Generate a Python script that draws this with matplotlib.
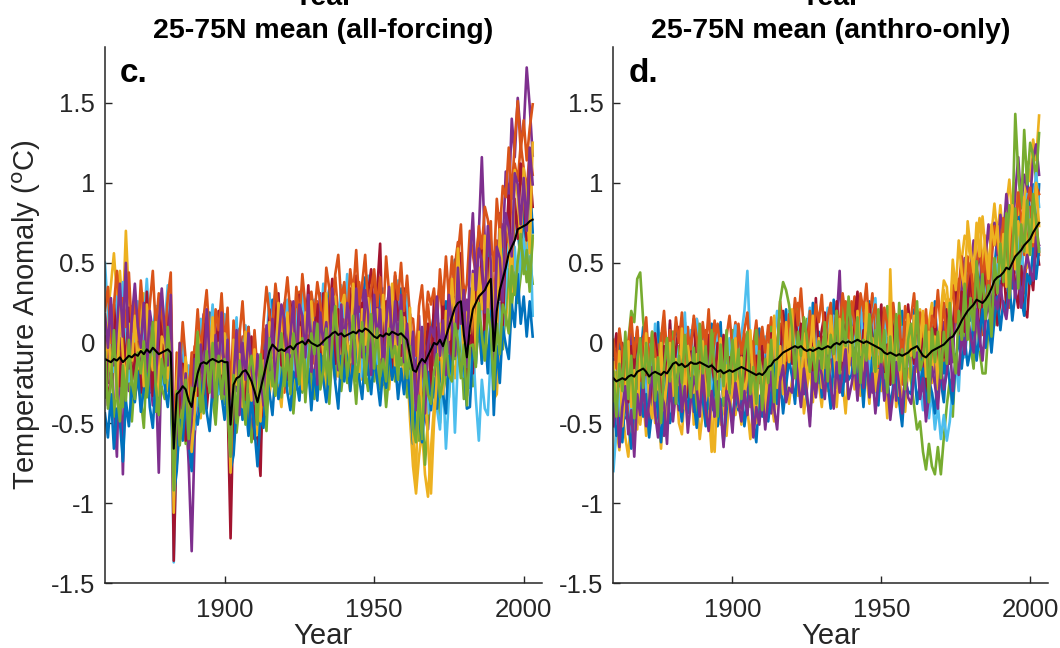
import numpy as np
import matplotlib.pyplot as plt
from matplotlib.ticker import FuncFormatter

plt.rcParams['font.family'] = ['Liberation Sans', 'DejaVu Sans']
plt.rcParams['axes.unicode_minus'] = False

years = np.arange(1860, 2004)

# ensemble means (deg C)
mean_c = [
    -0.10, -0.11, -0.12, -0.10, -0.11, -0.09, -0.12, -0.10, -0.08, -0.09,
    -0.07, -0.08, -0.05, -0.07, -0.04, -0.06, -0.03, -0.05, -0.07, -0.06,
    -0.05, -0.04, -0.06, -0.66, -0.32, -0.30, -0.27, -0.29, -0.36, -0.40,
    -0.28, -0.19, -0.13, -0.12, -0.13, -0.11, -0.10, -0.11, -0.12, -0.11,
    -0.12, -0.12, -0.51, -0.26, -0.22, -0.21, -0.18, -0.17, -0.20, -0.24,
    -0.30, -0.37, -0.29, -0.21, -0.13, -0.05, -0.01, -0.03, -0.05, -0.04,
    -0.05, -0.03, -0.02, -0.04, -0.01, 0.00, 0.01, -0.01, 0.02, 0.00,
    -0.01, -0.02, -0.01, 0.01, 0.03, 0.04, 0.06, 0.07, 0.05, 0.06,
    0.04, 0.05, 0.06, 0.07, 0.06, 0.08, 0.07, 0.09, 0.08, 0.06,
    0.04, 0.03, 0.05, 0.04, 0.06, 0.05, 0.07, 0.06, 0.05, 0.06,
    0.04, 0.02, -0.08, -0.17, -0.18, -0.13, -0.10, -0.12, -0.08, -0.04,
    0.00, -0.01, 0.02, -0.02, 0.04, 0.10, 0.16, 0.22, 0.25, 0.26,
    0.05, -0.09, 0.10, 0.21, 0.25, 0.29, 0.31, 0.33, 0.37, 0.40,
    -0.05, 0.20, 0.33, 0.40, 0.47, 0.56, 0.60, 0.64, 0.71, 0.72,
    0.73, 0.74, 0.76, 0.77,
]

mean_d = [
    -0.22, -0.24, -0.23, -0.22, -0.23, -0.21, -0.20, -0.21, -0.18, -0.17,
    -0.16, -0.18, -0.21, -0.19, -0.18, -0.19, -0.20, -0.18, -0.19, -0.16,
    -0.13, -0.12, -0.14, -0.13, -0.15, -0.14, -0.12, -0.13, -0.13, -0.12,
    -0.13, -0.14, -0.15, -0.14, -0.16, -0.18, -0.17, -0.19, -0.18, -0.17,
    -0.18, -0.17, -0.16, -0.15, -0.16, -0.17, -0.18, -0.19, -0.20, -0.19,
    -0.20, -0.18, -0.15, -0.14, -0.11, -0.10, -0.08, -0.06, -0.05, -0.04,
    -0.03, -0.02, -0.03, -0.02, -0.04, -0.05, -0.04, -0.05, -0.04, -0.03,
    -0.04, -0.03, -0.02, -0.03, -0.01, 0.00, -0.01, 0.01, 0.00, 0.01,
    0.00, 0.01, 0.02, 0.01, 0.00, 0.01, 0.00, -0.01, -0.02, -0.03,
    -0.04, -0.06, -0.07, -0.06, -0.07, -0.08, -0.07, -0.08, -0.07, -0.06,
    -0.04, -0.03, -0.02, -0.05, -0.08, -0.09, -0.07, -0.05, -0.04, -0.03,
    -0.02, -0.01, 0.01, 0.03, 0.04, 0.07, 0.10, 0.14, 0.17, 0.20,
    0.22, 0.24, 0.27, 0.26, 0.25, 0.27, 0.30, 0.34, 0.39, 0.41,
    0.42, 0.44, 0.47, 0.46, 0.50, 0.54, 0.56, 0.58, 0.61, 0.63,
    0.65, 0.69, 0.72, 0.75,
]

# individual runs, departures from the ensemble mean in hundredths of a degree
run_c01 = [
    18, -6, 25, 10, -14, 30, 8, -20, 5, 22,
    -10, 15, 34, -4, 12, -25, 6, 28, -8, 14,
    20, -15, 8, -12, -30, 10, -6, 18, -22, 5,
    12, -18, 26, 4, -10, 30, 14, -12, 20, -5,
    8, -22, -10, 16, -8, 24, -14, 6, 30, 2,
    -16, 12, -8, 22, -18, 4, 28, -6, 10, -24,
    14, -10, 20, 6, -28, 12, -4, 26, -12, 8,
    22, -8, 4, -20, 16, 30, -10, 6, -18, 12,
    -6, 24, 10, -14, 18, -22, 8, 32, -4, -16,
    10, -12, 26, -6, 14, -24, 20, 4, -10, 28,
    -8, 16, -20, -30, 6, 12, -14, 24, -2, 10,
    18, -10, -26, 8, 22, -16, 4, 30, -12, 14,
    -20, 6, 24, -8, 16, -28, 10, -14, 26, 4,
    -12, 20, -6, 28, -18, 10, -30, 16, 2, -24,
    12, -20, 30, -8,
]
run_c02 = [
    -20, 12, -4, 28, 40, 22, 35, 48, 10, -6,
    14, -18, -30, -8, 20, 6, -24, -12, 16, 30,
    8, 24, -10, -18, 6, -30, -16, 12, -8, 20,
    26, 10, -14, -28, -6, 18, 32, 8, -20, -10,
    16, 28, -6, -18, 10, -2, 22, -16, -30, 6,
    20, -4, 14, 30, 8, -22, -10, 16, 24, -14,
    -26, 6, 18, -8, 24, 32, 10, -20, -6, 14,
    -12, 28, 18, 4, -24, -10, 20, 34, 12, -8,
    22, -16, -28, 6, 14, 30, -6, -20, 10, 26,
    36, 14, -18, 8, -26, -4, 18, 28, -12, 6,
    24, -6, 12, -20, -42, -28, -10, 20, 32, 8,
    -14, 22, 36, 12, -18, -30, 6, 26, 38, 16,
    30, 12, -20, -6, 28, 40, 22, -10, 30, 36,
    20, 44, 18, 34, 24, -8, 40, 48, 30, 52,
    36, 20, 44, 28,
]
run_c03 = [
    10, 30, 48, 66, 40, 54, 30, 80, 36, 16,
    -16, 4, 22, 38, -6, -24, -10, 12, 34, 18,
    -8, -26, -14, -10, -36, -18, 8, -20, -34, -14,
    4, -22, -34, -8, 14, -6, -26, -14, 10, 24,
    -18, -6, -24, -38, -22, 6, -12, -30, -18, -2,
    14, -20, -34, -10, 6, -28, -16, 8, -22, -36,
    -8, 16, -20, -34, -14, 4, -24, -12, 10, -30,
    -18, 6, 24, -10, -32, -16, 14, -4, -26, -12,
    8, -22, -36, -14, 10, -6, -30, -18, 4, 22,
    -10, -28, -6, 16, -20, -34, -12, 6, -24, -8,
    -30, -14, -40, -60, -76, -58, -44, -70, -88, -62,
    -40, -22, -8, -34, -18, 6, -26, -44, -20, -4,
    -28, -10, -38, -16, 4, -24, -42, -20, -6, 12,
    -30, -52, -26, -10, -36, -18, 8, -22, -40, -14,
    -26, -8, -34, -12,
]
run_c04 = [
    6, -14, 20, -30, -60, 12, -70, 8, -22, 32,
    26, -8, -20, 14, 30, -12, -36, -14, -74, 4,
    10, 28, -6, -24, 12, -16, 24, -8, -40, -90,
    -30, -12, 16, 30, -4, 22, -18, 6, 28, 10,
    -14, 20, 6, -26, 14, 30, -8, 18, -20, -34,
    8, 26, -12, -24, 16, -8, 20, 34, -16, 4,
    30, 8, -18, 14, 26, -10, -28, 6, 20, -14,
    -22, 10, 32, 18, -6, 24, -14, -30, 8, 26,
    14, -10, 22, -26, -8, 16, 30, -12, -28, 4,
    -18, 24, 8, -30, 12, 28, -6, -20, 16, -4,
    20, -10, 26, 8, -16, 30, -24, -34, -46, -20,
    10, -28, -14, 20, -6, -36, 18, -4, 28, -18,
    12, 36, -8, 24, -16, 40, 85, 30, 10, -20,
    26, -4, 48, 20, 60, 30, 80, 52, 82, 58,
    60, 98, 72, 40,
]
run_c05 = [
    -24, -10, 8, -36, -18, 4, -28, 16, -6, -40,
    -14, 10, -30, -46, -8, 20, -16, -38, 6, -22,
    -30, -6, -22, 8, -44, -20, 14, -34, -12, -26,
    10, -20, -8, -32, -14, 6, -24, -40, -10, 12,
    -26, -8, -20, -4, -34, -16, 10, -28, -12, -38,
    -20, 6, -30, -14, -42, -8, -26, -12, 14, -30,
    6, -24, -8, -40, -18, -4, -32, -16, 8, -22,
    -34, -10, -26, -2, -18, -42, -12, -28, -6, -36,
    -16, -30, -8, -22, -44, -14, -2, -26, -38, -10,
    -28, -6, -34, -18, -46, -24, -10, -30, -4, -20,
    -12, -36, -14, -28, -4, -48, -30, -64, -40, -18,
    -34, -20, -52, -10, -28, -44, -16, -32, -6, -26,
    -40, -14, -30, -48, -22, -8, -36, -18, -50, -28,
    -6, -34, -18, -44, -26, -10, -38, -20, -46, -30,
    -14, -36, -22, -40,
]
run_c06 = [
    60, 30, 14, -8, 40, 22, 50, 10, -16, 26,
    8, 34, -12, 20, 44, 14, -6, 28, 10, -20,
    16, 40, 6, -71, -20, 18, 30, -4, 22, -8,
    -26, -6, 28, 12, -16, 8, 34, -2, -20, 16,
    30, 4, -10, 22, 38, -14, 10, 28, -6, 20,
    34, 18, -6, -28, 10, 36, -8, 14, -20, 24,
    8, 30, 14, -16, 22, -2, 34, 10, -24, 18,
    28, -12, 8, 36, 20, -10, 26, -14, 4, 30,
    12, 38, -4, 24, -18, 10, -28, 16, 34, -8,
    22, -16, 10, 30, -6, 18, -22, 14, 34, -12,
    6, 28, -16, 12, -30, 4, -20, -6, -36, -12,
    -24, -40, -56, -18, -70, -44, -20, -78, -36, -10,
    -26, 8, -38, -20, -60, -90, -54, -74, -82, -46,
    10, -30, -8, -36, -12, 6, -26, -4, -40, -18,
    -8, -28, 6, -60,
]
run_c07 = [
    14, -28, -10, 34, 8, -18, 24, -6, 30, -14,
    -4, 20, -26, -12, 36, 8, -30, 16, -10, 24,
    -18, 10, 30, -70, -24, -8, 14, -32, 6, -20,
    22, -14, -2, 24, -28, -10, 20, -6, 32, -20,
    12, -24, -71, -10, 20, -16, 8, -28, 14, 28,
    -30, -22, -54, 16, -12, 26, -8, 20, 36, -10,
    16, -20, 28, 4, -14, 30, -26, 8, 34, -8,
    10, 26, -16, 30, -6, 14, 34, -20, 16, -4,
    -22, 6, 28, -8, 36, -14, 18, 2, 24, 40,
    8, 30, 57, -10, 20, 6, -28, 36, 12, -14,
    30, -12, 8, 16, -20, 10, -36, -8, 20, -26,
    28, 6, -18, 32, -10, 24, -30, 12, -16, 30,
    10, -24, 14, -40, 20, -10, 28, -36, 16, -8,
    30, -12, 22, -30, 14, 36, -18, 26, -6, 40,
    18, -10, 34, 8,
]
run_c08 = [
    -34, -48, -20, -56, -30, -40, -62, -26, -44, -18,
    -30, -10, -38, -22, -4, -34, -50, -16, -28, -8,
    -22, -36, -12, -30, -48, -18, -34, -6, -26, -40,
    -14, -32, -20, -8, -30, -44, -16, -28, -6, -22,
    -36, -12, -28, -44, -18, -4, -30, -20, -38, -10,
    -24, -40, -16, -32, -8, -26, -44, -14, -30, -18,
    -6, -28, -40, -14, -22, -36, -10, -30, -18, -42,
    -16, -34, -6, -24, -40, -20, -8, -32, -46, -14,
    -28, -10, -36, -18, -4, -30, -42, -16, -24, -38,
    -12, -26, -44, -20, -34, -8, -30, -18, -40, -22,
    -36, -14, -28, -46, -20, -32, -52, -24, -10, -38,
    -22, -40, -14, -30, -48, -18, -36, -8, -28, -44,
    -16, -32, -50, -24, -38, -12, -44, -26, -56, -20,
    -40, -22, -58, -30, -48, -66, -36, -54, -28, -60,
    -44, -70, -50, -73,
]
run_c09 = [
    30, 46, 12, 34, 56, 28, 40, 20, 52, 16,
    36, 10, 44, 22, -2, 30, 48, 14, 38, 24,
    8, 32, 50, -4, 26, 12, 40, 18, 2, 34,
    22, 40, 6, 28, 46, 14, -6, 32, 20, 42,
    10, 34, 16, 40, 2, 26, 44, 12, 30, -4,
    38, 18, 6, 34, 48, 22, 10, 40, 26, 8,
    28, 44, 20, 6, 36, 14, 42, 24, -2, 32,
    18, 40, 26, 8, 44, 30, 12, 36, 50, 20,
    34, 8, 40, 24, 52, 16, 30, 46, 14, 28,
    42, 20, 36, 10, 48, 26, 6, 38, 22, 44,
    16, 40, 24, 32, 10, 36, 46, 20, 40, 28,
    34, 12, 44, 26, 50, 18, 38, 8, 30, 48,
    22, 46, 60, 34, 18, 44, 28, 52, 40, 24,
    50, 70, 36, 58, 44, 66, 30, 62, 80, 48,
    66, 40, 58, 72,
]
run_c10 = [
    -10, 22, -6, 14, -24, 36, 4, -16, 20, -2,
    24, -8, 12, -20, 28, 2, -14, 18, -26, 10,
    4, -18, 22, -40, 8, 30, -12, 20, -6, -28,
    -16, 24, 8, -14, 20, -4, 26, -18, 12, -8,
    18, -10, -30, 28, -4, 14, -22, 24, 6, -12,
    26, 4, -20, 10, -26, 18, -2, -16, 30, 12,
    -10, 22, -4, 28, -18, 10, -30, 20, 4, 26,
    2, -20, 14, -8, 28, -24, 6, 22, -12, 16,
    26, -4, -18, 30, 8, -26, 14, -10, 20, -22,
    4, 18, -14, 26, -8, 12, 30, -20, 8, -6,
    12, -22, 30, -40, -68, 20, -40, -16, -54, -90,
    -50, -20, 10, -30, 16, -8, 24, -12, 34, 2,
    -18, 28, -4, 22, -30, 18, -10, 34, -20, 14,
    24, -16, 38, -6, 30, 12, -28, 44, 20, -10,
    36, 14, -20, 48,
]
run_c11 = [
    28, 8, 40, -4, 20, 46, 16, 60, -8, 24,
    44, 18, 2, 32, -14, 26, 10, -20, 20, 40,
    12, -10, 36, -8, -22, 30, -14, 10, -30, -6,
    18, -8, 12, -20, 34, 2, -24, 16, -4, 30,
    -20, 14, -12, 4, 30, -24, 18, -6, 26, 10,
    -8, 30, 10, -18, 24, -12, 16, -24, 4, 28,
    20, -14, 6, 30, -20, 24, 16, -8, 28, -18,
    14, -24, 20, -2, 10, -16, 28, 4, -22, 18,
    -10, 20, 4, -20, 28, -2, -16, 24, 10, -26,
    26, -2, 16, -20, 6, 30, -12, 20, -6, 24,
    -16, 10, -8, 24, -24, -6, 20, -32, 6, 14,
    4, 30, -10, 16, -24, 20, -6, -30, 22, -14,
    28, -6, 40, 60, 8, 30, 20, -14, 36, 10,
    -10, 40, 20, -14, 34, 16, -6, 42, 28, 2,
    30, -4, 46, 22,
]
run_c12 = [
    4, -30, -12, 18, -20, -40, -2, -26, 10, -16,
    -28, 2, -14, 8, -30, -6, 16, -22, -38, -4,
    -20, 14, -8, -26, 2, -34, -18, 6, -24, 12,
    -2, 26, -30, -16, 8, -20, 10, -30, 4, -24,
    2, -30, -20, 6, -28, 10, -10, -34, 2, 16,
    6, -14, 22, -6, -32, 8, -20, -30, -4, 10,
    -22, -4, -30, 10, -8, -26, 2, -36, -12, 6,
    -6, 14, -28, -18, 6, -30, -4, 16, -16, -28,
    4, -26, -12, 10, -30, -18, 6, -34, -8, 12,
    -20, 6, -26, -14, -30, 4, -16, -8, -28, 14,
    -4, -24, 6, -36, -44, -20, -50, -2, -24, -34,
    -18, -6, -36, -22, -2, -30, -40, -10, -24, -48,
    -6, -30, -12, -22, -40, -4, -26, -44, -16, -32,
    -24, -8, -40, -16, -30, -50, -12, -34, -20, -4,
    -30, -16, -44, -10,
]

run_d01 = [
    12, -20, 30, -6, 18, -28, 8, 24, -14, 4,
    26, -10, 16, -24, 6, 32, -8, 14, -20, 10,
    -4, 22, -16, 8, 28, -12, 18, -26, 2, 20,
    -18, 10, -6, 26, -14, 4, 30, -10, 16, -22,
    8, -16, 24, -2, 14, -26, 10, 20, -8, 28,
    -12, 18, -24, 6, 22, -4, -18, 12, 26, -10,
    16, -8, 24, -20, 4, 18, -14, 30, -2, 10,
    -22, 8, 20, -12, 28, -6, 14, -18, 4, 24,
    -10, 20, -2, 16, -24, 10, 26, -8, 14, -16,
    22, -6, 10, -20, 18, 4, -12, 28, -4, 14,
    -16, 24, -8, 12, -22, 6, 20, -14, 30, -4,
    10, -18, 26, 2, -10, 20, -6, 14, -24, 18,
    -8, 24, -14, 10, 30, -4, 16, -20, 8, 26,
    -12, 20, -2, 34, -16, 12, 28, -8, 18, 40,
    6, 30, -10, 24,
]
run_d02 = [
    -26, -8, -20, 4, -14, -30, -2, -18, 10, -24,
    2, -16, 24, 10, -6, 18, -12, 30, 14, -4,
    20, 6, -10, 16, -2, 24, 10, -14, 28, 12,
    4, 22, -8, 14, 30, 8, -6, 20, 2, -12,
    16, 30, 4, -10, 22, 12, -4, 18, 34, 8,
    24, -2, 12, 30, 6, -14, 20, 4, -8, 16,
    -6, 14, 28, 2, -16, 10, 22, -4, 12, -18,
    8, -12, 4, 22, -8, 16, -20, 6, 26, -2,
    12, 28, 6, -10, 20, -4, 14, 32, 8, -12,
    18, 2, -14, 24, 10, -6, 16, -18, 20, 6,
    -8, 14, 22, -4, 10, 26, -12, 8, 18, -6,
    20, -10, 4, 24, -8, 12, 30, -4, 16, 34,
    10, -14, 22, 6, -20, 14, -6, 26, -12, 4,
    30, -8, 16, -24, 10, 26, -16, 6, -30, -6,
    20, -12, 8, -20,
]
run_d03 = [
    -52, -30, -44, -20, -36, -50, -26, -40, -12, -34,
    -18, -40, -28, -8, -32, -22, -46, -14, -30, -6,
    -24, -10, -36, -44, -16, -28, -4, -38, -20, -48,
    -30, -12, -26, -54, -22, -8, -34, -18, -40, -14,
    -2, -28, -16, -36, -10, -24, -42, -20, 6, -30,
    -14, -32, -8, -22, -38, -12, -26, 4, -18, -34,
    -20, -6, -30, -16, -40, -24, -10, -32, -2, -22,
    -36, -14, -28, -8, -20, -40, -12, -26, -44, -18,
    -4, -30, -16, -34, -10, -22, -38, -6, -28, -14,
    -26, -12, -40, 52, -2, -32, -16, -24, -36, -10,
    -20, 10, -6, 26, 14, -10, 20, 30, 8, -2,
    16, 34, 22, 8, 40, 26, 12, 38, 50, 44,
    30, 14, 36, 52, 22, 40, 16, 34, 48, 26,
    44, 20, 38, 56, 30, 46, 24, 40, 18, 50,
    36, 58, 42, 67,
]
run_d04 = [
    8, 20, -10, 14, -24, 2, 26, -16, 10, -6,
    -20, 6, -32, -10, 12, -26, -2, -40, 4, -18,
    10, -14, -28, 2, -20, -6, 14, -30, -10, 6,
    -24, 2, 18, -12, -30, -4, 10, -20, 8, -8,
    -16, 12, -6, -26, 4, -14, 16, -28, -2, 10,
    -20, -8, 10, -30, 2, -16, 8, -24, -10, 14,
    -6, 20, -18, 2, -28, -8, 12, -22, 6, -12,
    4, -16, 10, -4, -20, 14, 46, -10, -24, 2,
    -14, 6, -28, -8, 12, -20, 0, -30, 10, -6,
    -10, -24, 4, -16, 8, -28, -6, 14, -20, -2,
    12, -18, 2, -26, -8, 10, -22, 6, -12, -30,
    -4, 14, -20, 8, -16, 30, -8, 20, 36, 10,
    24, 40, 18, 32, 6, 26, 44, 20, 36, 14,
    38, 22, 46, 30, 16, 40, 60, 28, 44, 34,
    24, 46, 52, 30,
]
run_d05 = [
    -20, 6, -34, 10, -8, 22, 40, 34, 58, 61,
    30, 12, -10, 18, -22, 4, 26, -6, 14, -18,
    20, -8, 12, -24, 6, -14, 18, 2, -30, 8,
    -12, 14, -26, 4, 22, -10, 8, -20, 12, -4,
    26, -14, 2, 18, -8, 10, -22, 6, 28, -2,
    12, -18, 6, 24, -10, 4, -12, 20, -8, 10,
    18, -6, 24, -14, 8, 20, -10, 14, 2, -22,
    6, -20, 10, -4, 16, -12, 4, 22, -16, 8,
    -8, 12, -20, 4, -14, 20, -2, -26, 10, -10,
    14, -16, 30, -4, 22, -12, 32, 6, -18, 12,
    -20, -36, -52, -44, -60, -70, -56, -72, -78, -62,
    -80, -58, -40, -26, -50, -14, -30, -2, -20, 6,
    -24, -40, -8, -30, -44, -46, -20, -10, -28, 4,
    14, 30, -2, 40, 22, 89, 50, 26, 72, 36,
    60, 48, 30, 56,
]
run_d06 = [
    -58, -30, -12, 14, -22, 6, -34, -8, 24, -16,
    8, -26, 20, -12, 30, -4, 14, -20, 4, 28,
    -10, 16, -24, 6, 34, -14, 20, -6, 28, 10,
    24, -8, 14, -20, 2, 26, -12, 16, -4, 20,
    10, 28, -4, 20, 36, 62, 14, -10, 18, 2,
    -6, 22, 4, -16, 14, 30, -2, 18, -12, 24,
    20, -10, 16, 2, -20, 12, 26, -8, 14, -4,
    -14, 8, 24, -6, 18, -22, 10, 2, -16, 20,
    22, -8, 12, 26, -12, 4, -20, 16, 30, -4,
    6, 20, -10, 14, -24, 8, -2, 18, -14, 26,
    10, -14, 16, -20, -34, -10, -40, -26, -50, -36,
    -58, -44, -62, -52, -30, -18, -40, -8, -26, -12,
    6, -22, 10, -30, -4, 16, -10, 22, -16, 8,
    -2, 20, -14, 6, 24, -10, 16, -24, 8, 30,
    -6, 18, 34, 10,
]
run_d07 = [
    14, 30, -4, 22, 8, -16, 18, 4, 26, -10,
    20, -2, 10, -18, 24, 6, -12, 16, -6, 30,
    -14, 8, 24, -4, 16, -20, 10, 28, -8, 14,
    6, -16, 20, 2, -10, 18, -4, 24, -20, 8,
    -8, 16, -20, 10, -14, 22, 2, -16, 12, -6,
    18, -12, 4, 20, -18, 8, -6, 26, -14, 2,
    -10, 26, -2, 14, -16, 6, 20, -12, 32, -4,
    12, 22, -8, 16, -12, 26, 4, -18, 10, 20,
    -4, 14, 30, -16, 8, -10, 24, 2, -20, 12,
    28, -12, 6, -20, 14, 24, -8, 10, -16, 30,
    6, -10, 22, -4, 16, -22, 12, -6, 26, -12,
    14, -8, 20, -16, 6, 28, -4, 18, -10, 4,
    20, -12, 14, -28, 4, 18, -6, -20, 10, -30,
    -16, 8, -26, -6, 12, -20, -34, -10, -40, -47,
    -20, -36, -10, -26,
]
run_d08 = [
    -16, -34, -24, -40, -12, -28, -46, -20, -32, -8,
    -30, -14, -38, -22, -6, -26, -42, -18, -2, -34,
    -28, -6, -20, -36, -14, -30, -10, -24, -40, -16,
    -22, -38, -12, -28, -6, -34, -18, -44, -24, -10,
    -32, -16, -26, -8, -36, -20, -4, -30, -42, -14,
    -26, -10, -34, -18, -2, -28, -14, -38, -22, -6,
    -18, -36, -8, -24, -12, -30, -42, -16, -28, -6,
    -30, -14, -22, -38, -6, -26, -18, -34, -10, -24,
    -20, -4, -32, -16, -40, -12, -28, -8, -22, -36,
    -6, -26, -14, -34, -20, -10, -30, -44, -16, -24,
    -28, -12, -36, -20, -8, -32, -16, -26, -40, -14,
    -22, -36, -10, -28, -42, -18, -6, -30, -14, -34,
    -26, -10, -38, -20, -4, -30, -16, -40, -24, -12,
    -34, -18, -28, -8, -36, -22, -12, -30, -44, -20,
    -28, -10, -32, -16,
]
run_d09 = [
    24, 8, 32, 16, -4, 20, 36, 12, 28, 2,
    18, 34, 6, 26, 12, -2, 22, 38, 10, 24,
    4, 28, 14, 32, -6, 20, 8, 30, 16, -4,
    26, 10, 36, 2, 18, 30, 12, -6, 22, 34,
    14, -2, 28, 8, 24, 36, 6, 20, -8, 16,
    30, 12, 26, -4, 18, 4, 34, 14, -6, 22,
    8, 30, 14, 36, 10, -4, 24, 6, 28, 16,
    34, 4, 18, 28, -8, 20, 12, 30, 16, 2,
    26, 10, -2, 30, 20, 36, 8, 16, 26, 10,
    -4, 28, 18, 6, 32, 14, 24, -6, 30, 18,
    20, 34, 8, 24, 12, 30, 2, 22, 14, 36,
    10, 26, -4, 18, 32, 6, 24, 40, 12, 20,
    28, 4, 20, 36, 14, 30, -8, 18, 34, 22,
    8, 34, 16, -4, 30, 14, 38, 20, -6, 24,
    32, 12, 26, 18,
]
run_d10 = [
    10, -14, 18, -30, -8, 22, -20, 4, -36, 12,
    -6, 24, -16, -28, 8, -10, 20, -24, -4, 16,
    -20, 2, -12, 22, -26, 12, -2, -18, 6, -30,
    14, -22, -4, -40, -52, -8, 20, -14, 4, -26,
    -10, 20, -24, 6, -18, -2, 26, -12, -30, 10,
    -2, -24, 14, -10, 28, -18, 6, -26, 18, -8,
    24, -14, 2, -30, 10, -20, -4, 22, -16, 6,
    -24, 12, -8, 20, -2, -28, 16, -12, 4, -20,
    10, -26, 18, -6, -18, 24, -10, 4, -28, 14,
    -14, 8, -22, 30, -12, 20, -26, 2, -8, 24,
    -4, 20, -16, 4, 28, -12, 14, -20, 8, -26,
    22, 40, 34, 10, 48, 26, 54, 30, 16, 56,
    36, 20, 48, 28, 54, 30, 10, 40, 22, 32,
    2, 24, -12, 18, 36, -8, 20, 4, 30, -16,
    12, -6, 28, -2,
]
run_d11 = [
    -30, -10, -42, -18, -4, -36, -22, -50, -14, -28,
    -8, -34, -16, 4, -26, -40, -12, -20, -44, -6,
    -36, -18, -2, -30, -12, -42, -24, -8, -16, -34,
    -4, -28, -40, -16, -30, -6, -24, -46, -12, -20,
    -38, -8, -22, -34, -14, -28, -6, -40, -20, -32,
    -10, -36, -20, -4, -30, -44, -16, -8, -32, -24,
    -28, -2, -20, -38, -12, -26, -48, -14, -30, -8,
    -16, -32, -6, -24, -40, -12, -30, -20, -4, -36,
    -26, -14, -38, -10, -28, -6, -34, -18, -42, -22,
    -8, -30, -16, -42, -24, -4, -20, -36, -12, -28,
    -34, -18, -4, -30, -14, -40, -26, -10, -22, -38,
    -12, -28, -20, -2, -34, -16, -30, -8, -24, -4,
    -18, -30, -6, -22, -36, -14, -2, -26, -10, -20,
    -6, -22, -32, -14, -4, -26, -10, -36, -18, -8,
    -20, -30, -6, -14,
]
run_d12 = [
    4, -22, 10, -8, 30, -14, 12, -26, 6, 20,
    -12, 18, -4, 26, -18, 10, -30, 2, 22, -8,
    14, -26, 6, -12, 20, -2, -22, 10, -16, 24,
    -6, 12, -18, 22, -2, -28, 16, -8, 26, -14,
    20, -6, 12, -20, 8, 24, -14, 4, -18, 14,
    -22, 8, -10, 16, -26, 2, 34, 44, 38, 28,
    12, -20, 10, -6, 20, 8, -14, 2, -20, 4,
    -12, 16, -22, 8, -6, 20, -18, 12, -2, 28,
    6, -20, 14, -26, 2, -12, 18, -4, -16, 24,
    -8, 14, -24, 10, -18, 26, -10, 4, -22, 8,
    16, -6, 28, -12, -2, 20, -30, 14, -8, 10,
    -20, 8, -14, 22, -6, -26, 10, -12, 20, -18,
    6, -16, 24, -4, 18, -12, 6, -30, 14, -10,
    20, -6, 34, -18, 8, 30, -22, 16, -4, 26,
    -10, 24, 4, -18,
]

runs_c = [run_c01, run_c02, run_c03, run_c04, run_c05, run_c06,
          run_c07, run_c08, run_c09, run_c10, run_c11, run_c12]
runs_d = [run_d01, run_d02, run_d03, run_d04, run_d05, run_d06,
          run_d07, run_d08, run_d09, run_d10, run_d11, run_d12]

# MATLAB default line colour order
line_colors = ['#0072BD', '#D95319', '#EDB120', '#7E2F8E',
               '#77AC30', '#4DBEEE', '#A2142F']
axis_color = '#262626'


def draw_panel(ax, mean, runs, letter, title):
    mean = np.asarray(mean)
    for i, run in enumerate(runs):
        n = min(len(run), len(years))
        ax.plot(years[:n], mean[:n] + np.asarray(run[:n]) / 100.0,
                color=line_colors[i % len(line_colors)], lw=1.9,
                solid_joinstyle='round')
    ax.plot(years, mean, color='k', lw=1.5)

    ax.set_xlim(1860, 2006)
    ax.set_ylim(-1.5, 1.85)
    ax.set_xticks([1900, 1950, 2000])
    ax.set_yticks([-1.5, -1, -0.5, 0, 0.5, 1, 1.5])
    ax.yaxis.set_major_formatter(FuncFormatter(lambda v, p: '%g' % v))
    ax.tick_params(direction='in', length=5, width=1.0, colors=axis_color,
                   labelsize=18.5, top=False, right=False)
    ax.tick_params(axis='y', pad=7)
    ax.tick_params(axis='x', pad=11)
    for side in ('top', 'right'):
        ax.spines[side].set_visible(False)
    for side in ('left', 'bottom'):
        ax.spines[side].set_color(axis_color)
        ax.spines[side].set_linewidth(1.1)

    ax.set_xlabel('Year', fontsize=21, color=axis_color, labelpad=0)
    ax.text(0.035, 0.935, letter, transform=ax.transAxes, fontsize=24,
            fontweight='bold', color='k', va='baseline', ha='left')
    # two-line title; the upper line runs off the top of the figure
    ax.text(0.5, 1.005, 'Year\n' + title, transform=ax.transAxes,
            ha='center', va='bottom', fontsize=20.5, fontweight='bold',
            linespacing=1.35, color='k')


fig = plt.figure(figsize=(10.6, 6.48), dpi=100)
ax_c = fig.add_axes([0.099, 0.1, 0.412, 0.828])
ax_d = fig.add_axes([0.5787, 0.1, 0.41, 0.828])

draw_panel(ax_c, mean_c, runs_c, 'c.', '25-75N mean (all-forcing)')
draw_panel(ax_d, mean_d, runs_d, 'd.', '25-75N mean (anthro-only)')

ax_c.set_ylabel('Temperature Anomaly ($^{\\rm o}$C)', fontsize=21,
                color=axis_color, labelpad=6)

fig.savefig('out.png', dpi=100)
